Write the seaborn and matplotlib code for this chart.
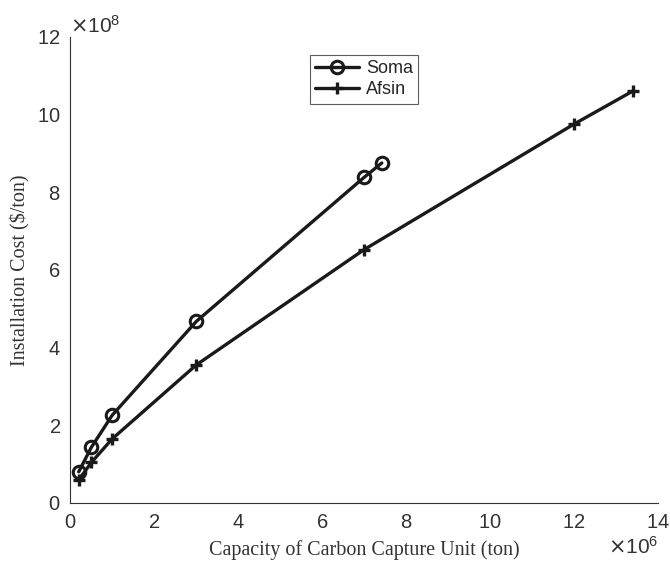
import numpy as np
import pandas as pd
import matplotlib
matplotlib.use('Agg')
import matplotlib.pyplot as plt
import seaborn as sns

# capacity (ton) and installation cost ($/ton)
soma_capacity = [0.2e6, 0.5e6, 1.0e6, 3.0e6, 7.0e6, 7.42e6]
soma_cost = [0.80e8, 1.43e8, 2.26e8, 4.67e8, 8.38e8, 8.75e8]
afsin_capacity = [0.2e6, 0.5e6, 1.0e6, 3.0e6, 7.0e6, 12.0e6, 13.4e6]
afsin_cost = [0.59e8, 1.04e8, 1.65e8, 3.55e8, 6.52e8, 9.75e8, 10.6e8]

sns.set_style('white')
plt.rcParams['font.family'] = ['Liberation Sans', 'DejaVu Sans']
plt.rcParams['axes.formatter.use_mathtext'] = True

fig = plt.figure(figsize=(6.7, 5.65), dpi=100)
ax = fig.add_axes([0.105, 0.11, 0.877, 0.825])

sns.lineplot(x=soma_capacity, y=soma_cost, ax=ax, color='#1a1a1a', linewidth=2.4,
             marker='o', markersize=9, markerfacecolor='none', markeredgewidth=2.2,
             markeredgecolor='#1a1a1a', label='Soma')
sns.lineplot(x=afsin_capacity, y=afsin_cost, ax=ax, color='#1a1a1a', linewidth=2.4,
             marker='+', markersize=9, markeredgewidth=2.4,
             markeredgecolor='#1a1a1a', label='Afsin')

ax.set_xlim(0, 14e6)
ax.set_ylim(0, 12e8)
ax.set_xticks(np.arange(0, 15e6, 2e6))
ax.set_yticks(np.arange(0, 13e8, 2e8))

# fixed exponents like the original (x10^6 and x10^8)
ax.ticklabel_format(axis='x', style='sci', scilimits=(6, 6), useMathText=True)
ax.ticklabel_format(axis='y', style='sci', scilimits=(8, 8), useMathText=True)

ax.tick_params(direction='in', length=5, width=0.8, colors='#333333',
               labelsize=14.5, pad=7)
for t in (ax.xaxis.get_offset_text(), ax.yaxis.get_offset_text()):
    t.set_fontsize(15)
    t.set_color('#333333')

for s in ['top', 'right']:
    ax.spines[s].set_visible(False)
for s in ['left', 'bottom']:
    ax.spines[s].set_color('#333333')
    ax.spines[s].set_linewidth(0.8)

ax.set_xlabel('Capacity of Carbon Capture Unit (ton)', family='Liberation Serif',
              fontsize=14.5, color='#333333', labelpad=6)
ax.set_ylabel('Installation Cost ($/ton)', family='Liberation Serif',
              fontsize=14.5, color='#333333', labelpad=5)

leg = ax.legend(loc='upper center', bbox_to_anchor=(0.5, 0.98), fontsize=13,
                frameon=True, fancybox=False, edgecolor='#333333',
                handlelength=2.4, borderpad=0.3, labelspacing=0.2, handletextpad=0.4)
leg.get_frame().set_linewidth(0.8)

fig.savefig('out.png', dpi=100)
